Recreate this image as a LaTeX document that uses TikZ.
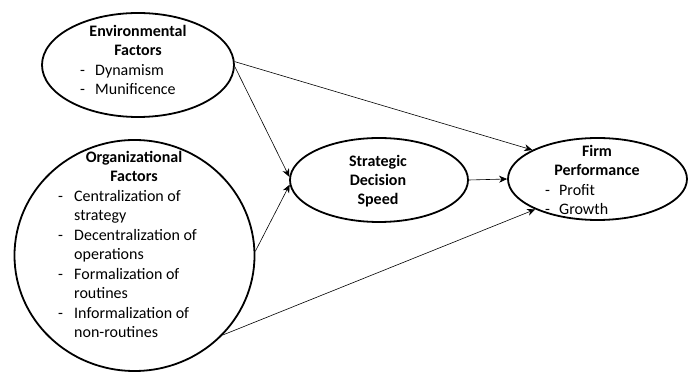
\documentclass[tikz,border=0pt]{standalone}
\usepackage{fontspec}
\setmainfont{Carlito}
\usetikzlibrary{shapes.geometric,arrows.meta}
\begin{document}
\begin{tikzpicture}[x=1pt,y=1pt,
  bubble/.style={ellipse,draw,line width=1.8pt,inner sep=0pt},
  conn/.style={line width=0.6pt,-{Stealth[length=8pt,width=7pt,inset=2.5pt]}},
  ttl/.style={font=\fontsize{16}{19}\selectfont\bfseries,anchor=base,inner sep=0pt},
  itm/.style={font=\fontsize{16}{19}\selectfont,anchor=base west,inner sep=0pt}]
\useasboundingbox (0,0) rectangle (694,372);

% Environmental Factors
\node[bubble,minimum width=192pt,minimum height=104pt] (env) at (138,307) {};
\node[ttl] (envt1) at (138,335) {Environmental};
\node[ttl] (envt2) at (138,316) {Factors};
\node[itm] (envd1) at (80,296) {-};
\node[itm] (envi1) at (95,296) {Dynamism};
\node[itm] (envd2) at (80,277) {-};
\node[itm] (envi2) at (95,277) {Munificence};

% Organizational Factors
\node[bubble,minimum width=240pt,minimum height=231pt] (org) at (134.5,116.5) {};
\node[ttl] (orgt1) at (134,209) {Organizational};
\node[ttl] (orgt2) at (134,190) {Factors};
\node[itm] (orgd1) at (58,170) {-};
\node[itm] (orgi1) at (74,170) {Centralization of};
\node[itm] (orgi1b) at (74,151) {strategy};
\node[itm] (orgd2) at (58,131) {-};
\node[itm] (orgi2) at (74,131) {Decentralization of};
\node[itm] (orgi2b) at (74,112) {operations};
\node[itm] (orgd3) at (58,92) {-};
\node[itm] (orgi3) at (74,92) {Formalization of};
\node[itm] (orgi3b) at (74,73) {routines};
\node[itm] (orgd4) at (58,53) {-};
\node[itm] (orgi4) at (74,53) {Informalization of};
\node[itm] (orgi4b) at (74,34) {non-routines};

% Strategic Decision Speed
\node[bubble,minimum width=178pt,minimum height=84pt] (sds) at (379,192) {};
\node[ttl] (sdst1) at (378,205) {Strategic};
\node[ttl] (sdst2) at (378,186) {Decision};
\node[ttl] (sdst3) at (378,167) {Speed};

% Firm Performance
\node[bubble,minimum width=179pt,minimum height=82pt] (firm) at (597.5,193) {};
\node[ttl] (firmt1) at (597,215) {Firm};
\node[ttl] (firmt2) at (597,196) {Performance};
\node[itm] (firmd1) at (545,176) {-};
\node[itm] (firmi1) at (559,176) {Profit};
\node[itm] (firmd2) at (545,157) {-};
\node[itm] (firmi2) at (559,157) {Growth};

% Connectors
\draw[conn] (env.2) -- (firm.156);
\draw[conn] (env.-1) -- (sds.178);
\draw[conn] (org.2) -- (sds.183);
\draw[conn] (org.-42) -- (firm.206);
\draw[conn] (sds.east) -- (firm.west);
\end{tikzpicture}
\end{document}
